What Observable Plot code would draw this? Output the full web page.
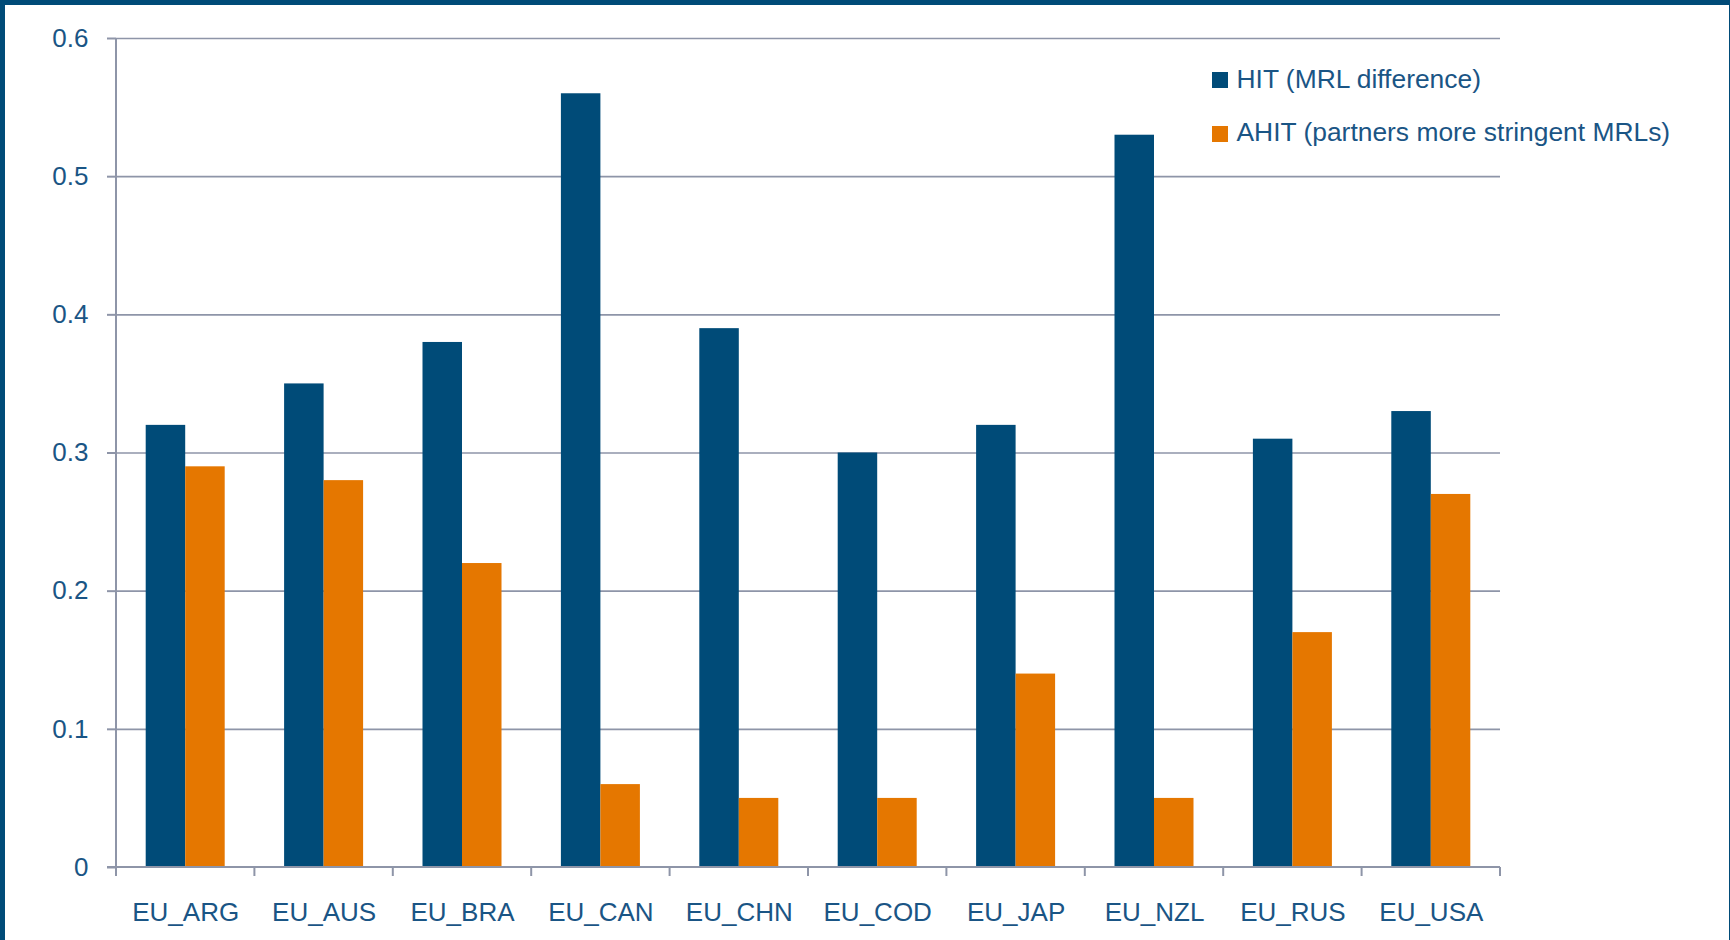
<!DOCTYPE html>
<html>
<head>
<meta charset="utf-8">
<script src="https://cdn.jsdelivr.net/npm/d3@7"></script>
<script src="https://cdn.jsdelivr.net/npm/@observablehq/plot@0.6"></script>
<style>
  html, body { margin: 0; padding: 0; background: #fff; }
  #wrap { position: relative; width: 1730px; height: 940px; overflow: hidden; font-family: "Liberation Sans", Arial, sans-serif; }
  #chart { position: absolute; left: 0; top: 0; }
  #border { position: absolute; left: 0; top: 0; width: 1730px; height: 940px; box-sizing: border-box;
            border-top: 5px solid #004b78; border-left: 5px solid #004b78; border-right: 1px solid #004b78; pointer-events: none; }
  .leg { position: absolute; left: 1212px; font-size: 26.4px; line-height: 26.4px; color: #1a5585; white-space: nowrap; }
  .leg .sw { position: absolute; left: 0; width: 16px; height: 16px; }
  .leg .tx { position: absolute; left: 24.5px; }
</style>
</head>
<body>
<div id="wrap">
  <div id="chart"></div>
  <div id="legend"></div>
  <div id="border"></div>
</div>
<script>
const categories = ["EU_ARG", "EU_AUS", "EU_BRA", "EU_CAN", "EU_CHN", "EU_COD", "EU_JAP", "EU_NZL", "EU_RUS", "EU_USA"];
const seriesNames = ["HIT (MRL difference)", "AHIT (partners more stringent MRLs)"];
const hitValues  = [0.32, 0.35, 0.38, 0.56, 0.39, 0.30, 0.32, 0.53, 0.31, 0.33];
const ahitValues = [0.29, 0.28, 0.22, 0.06, 0.05, 0.05, 0.14, 0.05, 0.17, 0.27];
const yTicks = [0, 0.1, 0.2, 0.3, 0.4, 0.5, 0.6];
const yTickLabels = ["0", "0.1", "0.2", "0.3", "0.4", "0.5", "0.6"];

const BLUE = "#004b78";
const ORANGE = "#e57700";
const TEXT = "#1a5585";
const GRID = "#8e95a8";

const hitData = categories.map((c, i) => ({cat: c, value: hitValues[i]}));
const ahitData = categories.map((c, i) => ({cat: c, value: ahitValues[i]}));

// axis line on the left and category-boundary ticks along the bottom
function frameTicks(index, scales, values, dimensions) {
  const {width, height, marginLeft, marginRight, marginTop, marginBottom} = dimensions;
  const x = scales.x, y = scales.y;
  const step = x.step ? x.step() : (width - marginLeft - marginRight) / categories.length;
  const g = d3.create("svg:g").attr("stroke", GRID).attr("stroke-width", 2).attr("fill", "none");
  const y0 = y(0);
  g.append("line").attr("x1", marginLeft).attr("x2", marginLeft).attr("y1", y(0.6)).attr("y2", y0 + 9);
  const edges = categories.map(c => x(c)).concat([x(categories[categories.length - 1]) + step]);
  for (const ex of edges) {
    g.append("line").attr("x1", ex).attr("x2", ex).attr("y1", y0).attr("y2", y0 + 9);
  }
  g.append("line").attr("x1", marginLeft - 9).attr("x2", width - marginRight).attr("y1", y0).attr("y2", y0);
  return g.node();
}

const chart = Plot.plot({
  width: 1730,
  height: 940,
  marginLeft: 116,
  marginRight: 230,
  marginTop: 38,
  marginBottom: 73,
  style: {fontFamily: "'Liberation Sans', Arial, sans-serif", fontSize: "26px", background: "transparent"},
  x: {domain: categories, padding: 0, round: false, label: null},
  y: {domain: [0, 0.6], label: null},
  marks: [
    Plot.ruleY(yTicks.slice(1), {stroke: GRID, strokeWidth: 1.6}),
    Plot.barY(hitData, {x: "cat", y: "value", fill: BLUE, insetLeft: 29.7, insetRight: 69.2}),
    Plot.barY(ahitData, {x: "cat", y: "value", fill: ORANGE, insetLeft: 69.2, insetRight: 29.7}),
    frameTicks,
    Plot.axisY({ticks: yTicks, tickFormat: d => yTickLabels[yTicks.indexOf(d)], tickSize: 9, tickPadding: 19,
                stroke: GRID, strokeWidth: 2, fill: TEXT, fontSize: 26, label: null}),
    Plot.axisX({tickSize: 0, tickPadding: 35, fill: TEXT, fontSize: 26, label: null})
  ]
});
document.getElementById("chart").appendChild(chart);

const legend = document.getElementById("legend");
const legColors = [BLUE, ORANGE];
const legTops = [72, 125.5];
seriesNames.forEach((name, i) => {
  const row = document.createElement("div");
  row.className = "leg";
  row.style.top = legTops[i] + "px";
  const sw = document.createElement("div");
  sw.className = "sw";
  sw.style.background = legColors[i];
  sw.style.top = "0px";
  const tx = document.createElement("div");
  tx.className = "tx";
  tx.style.top = "-6.3px";
  tx.textContent = name;
  row.appendChild(sw);
  row.appendChild(tx);
  legend.appendChild(row);
});
</script>
</body>
</html>
